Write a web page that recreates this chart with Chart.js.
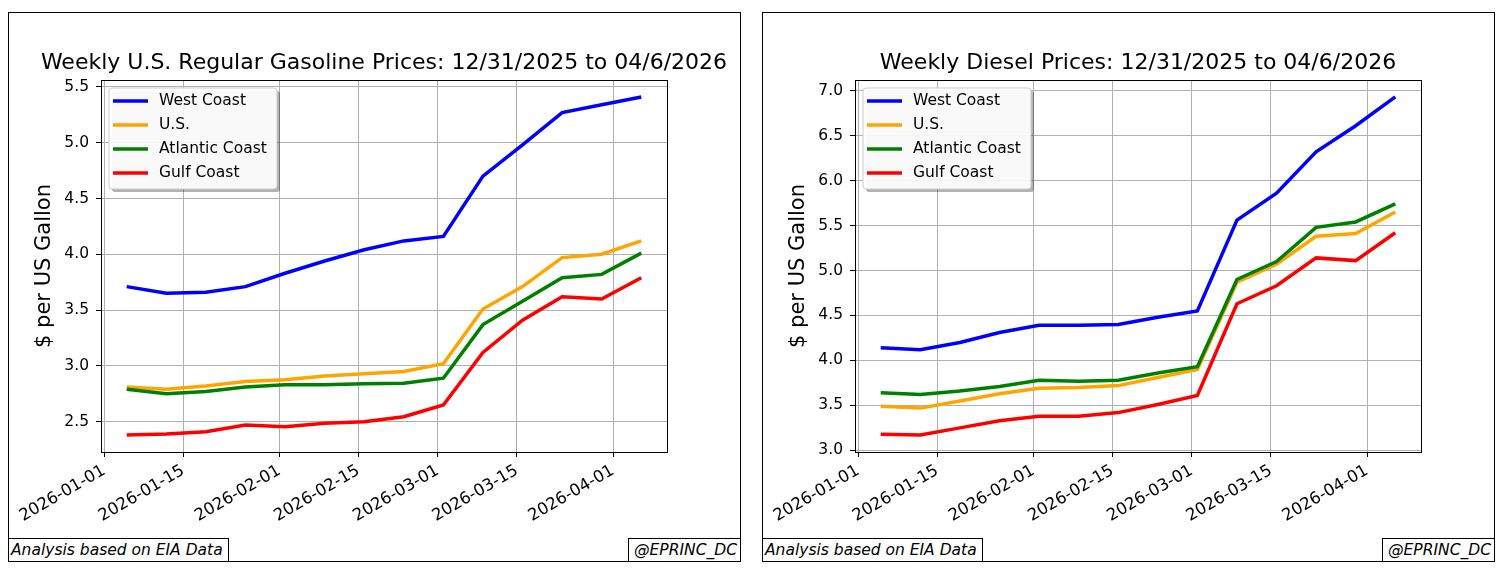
<!DOCTYPE html>
<html>
<head>
<meta charset="utf-8">
<script src="https://cdn.jsdelivr.net/npm/chart.js@4.4.1/dist/chart.umd.min.js"></script>
<style>
  body { margin: 0; background: #fff; width: 1501px; height: 568px; position: relative; overflow: hidden; }
  .panel { position: absolute; top: 12px; width: 733px; height: 550px; border: 1px solid #000; box-sizing: border-box; background: #fff; }
  .panel canvas { position: absolute; left: 0; top: 0; }
  .note { position: absolute; bottom: -1px; height: 24px; box-sizing: border-box; border: 1px solid #000; background: #fff;
          font: italic 15.5px "DejaVu Sans", sans-serif; line-height: 22px; color: #000; white-space: nowrap; }
  .note.l { left: -1px; padding: 0 5px 0 2px; }
  .note.r { right: -1px; padding: 0 3px 0 5px; }
</style>
</head>
<body>
<div class="panel" style="left:8px">
  <canvas id="gasChart" width="731" height="548"></canvas>
  <div class="note l">Analysis based on EIA Data</div>
  <div class="note r">@EPRINC_DC</div>
</div>
<div class="panel" style="left:762px">
  <canvas id="dieselChart" width="731" height="548"></canvas>
  <div class="note l">Analysis based on EIA Data</div>
  <div class="note r">@EPRINC_DC</div>
</div>
<script>
// weekly EIA dates (Mondays)
const weeks = ["2026-01-05", "2026-01-12", "2026-01-19", "2026-01-26", "2026-02-02", "2026-02-09", "2026-02-16",
               "2026-02-23", "2026-03-02", "2026-03-09", "2026-03-16", "2026-03-23", "2026-03-30", "2026-04-06"];
const seriesNames = ["West Coast", "U.S.", "Atlantic Coast", "Gulf Coast"];
const seriesColors = ["blue", "orange", "green", "red"];

// gasoline, $/gal
const gasWestCoast = [3.71, 3.65, 3.66, 3.71, 3.83, 3.94, 4.04, 4.12, 4.16, 4.70, 4.98, 5.27, 5.34, 5.41];
const gasUS        = [2.81, 2.79, 2.82, 2.86, 2.875, 2.91, 2.93, 2.95, 3.02, 3.51, 3.71, 3.97, 4.00, 4.12];
const gasAtlantic  = [2.79, 2.75, 2.77, 2.81, 2.83, 2.83, 2.84, 2.845, 2.89, 3.37, 3.58, 3.79, 3.82, 4.01];
const gasGulf      = [2.38, 2.39, 2.41, 2.47, 2.455, 2.485, 2.50, 2.545, 2.65, 3.12, 3.41, 3.62, 3.60, 3.79];

// diesel, $/gal
const dslWestCoast = [4.14, 4.12, 4.20, 4.31, 4.39, 4.39, 4.40, 4.48, 4.55, 5.56, 5.86, 6.32, 6.61, 6.93];
const dslUS        = [3.49, 3.47, 3.55, 3.63, 3.69, 3.70, 3.72, 3.81, 3.90, 4.87, 5.07, 5.38, 5.41, 5.65];
const dslAtlantic  = [3.64, 3.62, 3.66, 3.71, 3.78, 3.77, 3.78, 3.86, 3.93, 4.90, 5.10, 5.48, 5.54, 5.74];
const dslGulf      = [3.18, 3.17, 3.25, 3.33, 3.38, 3.38, 3.42, 3.51, 3.61, 4.63, 4.83, 5.14, 5.11, 5.42];

// tick labels
const xTickDates = ["2026-01-01", "2026-01-15", "2026-02-01", "2026-02-15", "2026-03-01", "2026-03-15", "2026-04-01"];
const gasTicks = [2.5, 3.0, 3.5, 4.0, 4.5, 5.0, 5.5];
const dslTicks = [3.0, 3.5, 4.0, 4.5, 5.0, 5.5, 6.0, 6.5, 7.0];

const FONT = '"DejaVu Sans", "Liberation Sans", sans-serif';

// days since 2026-01-01, used as the x value
function dayOf(s) {
    return (Date.parse(s + "T00:00:00Z") - Date.UTC(2026, 0, 1)) / 86400000;
}

// title centred on the axes, spines, matplotlib style legend
const framePlugin = {
    id: "frame",
    afterDraw(chart, args, opts) {
        const { ctx, chartArea: a } = chart;
        ctx.save();

        ctx.fillStyle = "#000";
        ctx.font = "22px " + FONT;
        ctx.textAlign = "center";
        ctx.textBaseline = "alphabetic";
        ctx.fillText(opts.title, (a.left + a.right) / 2, 55.5);

        ctx.strokeStyle = "#000";
        ctx.lineWidth = 1;
        ctx.strokeRect(Math.round(a.left) + 0.5, Math.round(a.top) + 0.5,
                       Math.round(a.right - a.left), Math.round(a.bottom - a.top));

        // legend box
        const x = a.left + 8, y = a.top + 8, w = 168, h = 101, r = 3;
        ctx.fillStyle = "rgba(0,0,0,0.3)";
        ctx.beginPath(); ctx.roundRect(x + 3, y + 3, w, h, r); ctx.fill();
        ctx.fillStyle = "rgba(255,255,255,0.92)";
        ctx.strokeStyle = "#ccc";
        ctx.beginPath(); ctx.roundRect(x, y, w, h, r); ctx.fill(); ctx.stroke();

        ctx.font = "15.5px " + FONT;
        ctx.textBaseline = "middle";
        ctx.textAlign = "left";
        chart.data.datasets.forEach((ds, i) => {
            const cy = y + 13 + i * 24;
            ctx.strokeStyle = ds.borderColor;
            ctx.lineWidth = 3.5;
            ctx.beginPath(); ctx.moveTo(x + 4, cy); ctx.lineTo(x + 39, cy); ctx.stroke();
            ctx.fillStyle = "#000";
            ctx.fillText(ds.label, x + 50, cy);
        });
        ctx.restore();
    }
};

function makeChart(id, title, series, yTicks) {
    const all = series.flat();
    const lo = Math.min(...all), hi = Math.max(...all);
    const xs = weeks.map(dayOf);
    const xlo = Math.min(...xs), xhi = Math.max(...xs);

    return new Chart(document.getElementById(id), {
        type: "line",
        data: {
            datasets: series.map((vals, i) => ({
                label: seriesNames[i],
                data: vals.map((v, j) => ({ x: xs[j], y: v })),
                borderColor: seriesColors[i],
                backgroundColor: seriesColors[i],
                borderWidth: 3.5,
                pointRadius: 0,
                tension: 0,
                order: series.length - i
            }))
        },
        options: {
            responsive: false,
            animation: false,
            layout: { padding: { left: 0, right: 73, top: 67, bottom: 0 } },
            plugins: {
                legend: { display: false },
                tooltip: { enabled: false },
                title: { display: false },
                frame: { title: title }
            },
            scales: {
                x: {
                    type: "linear",
                    min: xlo - 0.05 * (xhi - xlo),
                    max: xhi + 0.05 * (xhi - xlo),
                    afterBuildTicks: s => { s.ticks = xTickDates.map(d => ({ value: dayOf(d) })); },
                    afterFit: s => { s.height = 109; },
                    ticks: {
                        autoSkip: false,
                        minRotation: 30,
                        maxRotation: 30,
                        padding: 4,
                        color: "#000",
                        font: { family: FONT, size: 16.5 },
                        callback: v => xTickDates.find(d => dayOf(d) === v) || ""
                    },
                    grid: { color: "#b0b0b0", lineWidth: 1, tickColor: "#000", tickLength: 5 },
                    border: { display: false }
                },
                y: {
                    type: "linear",
                    min: lo - 0.05 * (hi - lo),
                    max: hi + 0.05 * (hi - lo),
                    afterBuildTicks: s => { s.ticks = yTicks.map(v => ({ value: v })); },
                    afterFit: s => { s.width = 92; },
                    ticks: {
                        padding: 7,
                        color: "#000",
                        font: { family: FONT, size: 15.5 },
                        callback: v => v.toFixed(1)
                    },
                    grid: { color: "#b0b0b0", lineWidth: 1, tickColor: "#000", tickLength: 5 },
                    border: { display: false },
                    title: {
                        display: true,
                        text: "$ per US Gallon",
                        color: "#000",
                        font: { family: FONT, size: 21 },
                        padding: { top: 23, bottom: 0 }
                    }
                }
            }
        },
        plugins: [framePlugin]
    });
}

makeChart("gasChart", "Weekly U.S. Regular Gasoline Prices: 12/31/2025 to 04/6/2026",
          [gasWestCoast, gasUS, gasAtlantic, gasGulf], gasTicks);
makeChart("dieselChart", "Weekly Diesel Prices: 12/31/2025 to 04/6/2026",
          [dslWestCoast, dslUS, dslAtlantic, dslGulf], dslTicks);
</script>
</body>
</html>
